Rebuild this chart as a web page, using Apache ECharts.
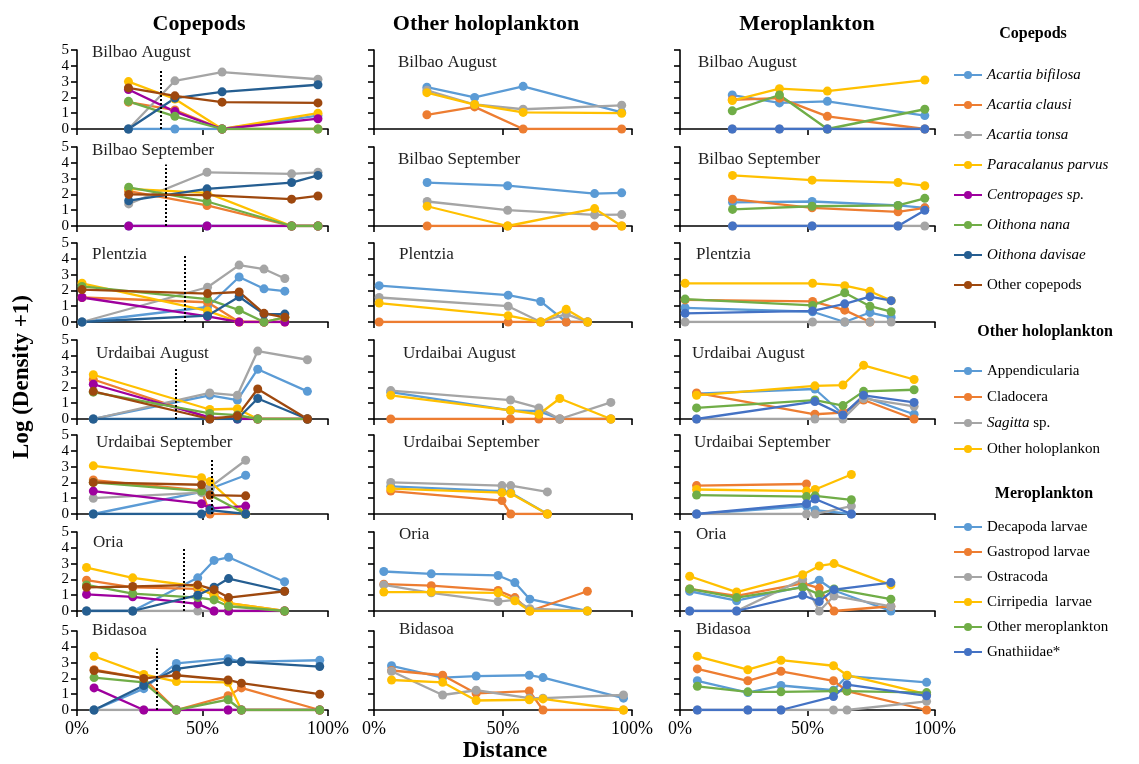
<!DOCTYPE html>
<html><head><meta charset="utf-8">
<script src="https://cdn.jsdelivr.net/npm/echarts@6/dist/echarts.min.js"></script>
<style>html,body{margin:0;padding:0;background:#fff}#c{width:1139px;height:764px}</style>
</head><body><div id="c"></div><script>
// ---------------- DATA ----------------
const sites = ['Bilbao August','Bilbao September','Plentzia','Urdaibai August','Urdaibai September','Oria','Bidasoa'];
const columnTitles = ['Copepods','Other holoplankton','Meroplankton'];
const xTickLabels = ['0%','50%','100%'];
// station positions (% of distance) per site
const stations = [
  [20.5,39,57.8,96],
  [20.6,51.8,85.5,96],
  [2,52,64.6,74.5,82.8],
  [6.5,52.9,63.9,72,91.8],
  [6.5,49.6,53,67.2],
  [3.8,22.2,48.1,54.6,60.4,82.7],
  [6.8,26.6,39.6,60.2,65.5,96.7]
];
// dotted separator in copepod panels: x position (%) and top (log units)
const dottedX = [33.5,35.5,43,39.4,53.8,42.6,31.9];
const dottedTop = [3.8,3.9,4.2,3.2,3.5,4.0,3.9];

// Copepods
const copepodNames = ['Acartia bifilosa','Acartia clausi','Acartia tonsa','Paracalanus parvus','Centropages sp.','Oithona nana','Oithona davisae','Other copepods'];
const acartiaBifilosa = [[0,0,0,0.85],[0,0,0,0],[0,0.95,2.85,2.1,1.95],[0,1.5,1.2,3.15,1.75],[0,1.4,1.6,2.45],[0,0,2.1,3.2,3.4,1.85],[0,1.35,2.95,3.25,3.05,3.15]];
const acartiaClausi = [[1.7,1.2,0,0],[2.2,1.3,0,0],[1.55,1.25,0,0,0],[2.5,0.05,0.1,0,0],[2.15,1.5,0,0],[1.95,1.5,1.4,1.05,0.5,0],[2.55,2.0,0,0.9,1.4,0]];
const acartiaTonsa = [[0,3.05,3.6,3.15],[1.4,3.4,3.3,3.4],[0,2.2,3.6,3.35,2.75],[0,1.65,1.5,4.3,3.75],[1.0,1.35,1.7,3.4],[0,0,0,0,0,0],[0,0,0,0,0,0]];
const paracalanusParvus = [[3.0,1.9,0,1.0],[2.35,2.1,0,0],[2.45,0.7,0,0,0.3],[2.8,0.6,0.65,0,0],[3.05,2.3,2.05,0],[2.75,2.1,1.55,0.95,0.5,0],[3.4,2.25,1.8,1.75,0,0]];
const centropages = [[2.5,1.1,0,0.65],[0,0,0,0],[1.55,0.35,0,0,0],[2.2,0.1,0,0,0],[1.45,0.65,0.35,0.5],[1.05,0.9,0.45,0,0,0],[1.4,0,0,0,0,0]];
const oithonaNana = [[1.75,0.8,0,0],[2.45,1.55,0,0],[2.25,1.45,0.75,0,0.3],[1.7,0.35,0.25,0,0],[2.0,1.45,1.2,0],[1.65,1.1,0.85,0.7,0.3,0],[2.05,1.75,0,0.65,0,0]];
const oithonaDavisae = [[0,1.95,2.35,2.8],[1.6,2.35,2.75,3.2],[0,0.4,1.6,0.5,0.5],[0,0,0,1.3,0],[0,0,0.25,0],[0,0,1.0,1.5,2.05,1.25],[0,1.55,2.6,3.05,3.05,2.75]];
const otherCopepods = [[2.6,2.1,1.7,1.65],[2.0,1.95,1.7,1.9],[2.05,1.8,1.9,0.55,0.3],[1.75,0,0.2,1.9,0],[2.0,1.85,1.2,1.15],[1.5,1.55,1.65,1.35,0.85,1.25],[2.5,2.0,2.2,1.9,1.7,1.0]];

// Other holoplankton
const holoNames = ['Appendicularia','Cladocera','Sagitta sp.','Other holoplankon'];
const appendicularia = [[2.65,2.0,2.7,1.05],[2.75,2.55,2.05,2.1],[2.3,1.7,1.3,0,0],[1.7,0.55,0.5,0,0],[1.75,1.45,1.35,0],[2.5,2.35,2.25,1.8,0.75,0],[2.8,2.05,2.15,2.2,2.05,0.75]];
const cladocera = [[0.9,1.4,0,0],[0,0,0,0],[0,0,0,0,0],[0,0,0,0,0],[1.45,0.85,0,0],[1.7,1.6,1.3,0.85,0,1.25],[2.5,2.2,1.05,1.2,0,0]];
const sagitta = [[2.45,1.55,1.25,1.5],[1.55,1.0,0.7,0.72],[1.55,1.0,0,0.5,0],[1.8,1.2,0.7,0,1.05],[2.0,1.8,1.8,1.4],[1.65,1.15,0.6,0.7,0.15,0],[2.45,0.95,1.25,0.75,0.75,0.95]];
const otherHolo = [[2.3,1.55,1.05,1.0],[1.25,0,1.1,0],[1.2,0.4,0,0.8,0],[1.5,0.55,0.3,1.3,0],[1.6,1.35,1.3,0],[1.2,1.2,1.15,0.65,0,0],[1.9,1.75,0.6,0.65,0.7,0]];

// Meroplankton
const meroNames = ['Decapoda larvae','Gastropod larvae','Ostracoda','Cirripedia  larvae','Other meroplankton','Gnathiidae*'];
const decapoda = [[2.15,1.65,1.75,0.85],[1.5,1.55,1.3,1.15],[0.9,0.65,0,0.6,0.3],[1.6,1.9,0.3,1.4,0.3],[0,0.5,0.25,0],[1.25,0.65,1.55,1.95,1.3,0],[1.85,1.1,1.55,1.25,2.15,1.75]];
const gastropod = [[1.85,1.95,0.8,0],[1.7,1.15,0.9,1.15],[1.4,1.3,0.75,0,null],[1.65,0.3,0.4,1.2,0],[1.8,1.9,null,null],[1.4,0.95,1.75,1.45,0,0.3],[2.6,1.85,2.45,1.85,1.2,0]];
const ostracoda = [[0,0,0,0],[0,0,0,0],[0,0,0,0,0],[0,0,0,1.3,0.8],[0,0,0,0.5],[0,0,2.0,0,0.95,0.3],[0,0,0,0,0,0.55]];
const cirripedia = [[1.8,2.55,2.4,3.1],[3.2,2.9,2.75,2.55],[2.45,2.45,2.3,1.95,1.35],[1.5,2.1,2.15,3.4,2.5],[1.55,1.45,1.55,2.5],[2.2,1.2,2.3,2.85,3.0,1.65],[3.4,2.55,3.15,2.8,2.2,1.0]];
const otherMero = [[1.15,2.15,0,1.25],[1.05,1.25,1.3,1.75],[1.45,1.05,1.85,1.0,0.65],[0.7,1.2,0.85,1.75,1.85],[1.2,1.1,1.15,0.9],[1.4,0.85,1.5,1.05,1.4,0.75],[1.5,1.15,1.15,1.2,1.2,1.1]];
const gnathiidae = [[0,0,0,0],[0,0,0,1.0],[0.55,0.7,1.15,1.6,1.35],[0,1.1,0.25,1.5,1.05],[0,0.65,0.95,0],[0,0,1.0,0.6,1.35,1.8],[0,0,0,0.85,1.6,0.9]];

// ---------------- STYLE / LAYOUT ----------------
const SERIF = '"Liberation Serif","Times New Roman",serif';
const C = {lb:'#5B9BD5', or:'#ED7D31', gr:'#A5A5A5', ye:'#FFC000', pu:'#9E009E', gn:'#70AD47', db:'#255E91', br:'#9E480E', bl:'#4472C4'};
const groups = [
  {names:copepodNames, colors:[C.lb,C.or,C.gr,C.ye,C.pu,C.gn,C.db,C.br],
   data:[acartiaBifilosa,acartiaClausi,acartiaTonsa,paracalanusParvus,centropages,oithonaNana,oithonaDavisae,otherCopepods]},
  {names:holoNames, colors:[C.lb,C.or,C.gr,C.ye], data:[appendicularia,cladocera,sagitta,otherHolo]},
  {names:meroNames, colors:[C.lb,C.or,C.gr,C.ye,C.gn,C.bl], data:[decapoda,gastropod,ostracoda,cirripedia,otherMero,gnathiidae]}
];
const colLeft = [77,374,680], colWidth = [251,258,255];
const rowTop = [50,147,243,340,435,532,631], plotH = 79;
const titlePos = [
  [[92,44],[92,142],[92,246],[96,345],[96,434],[93,534],[92,622]],
  [[398,54],[398,151],[399,246],[403,345],[403,434],[399,526],[399,621]],
  [[698,54],[698,151],[696,246],[692,345],[694,434],[696,526],[696,621]]
];
const italicNames = new Set(['Acartia bifilosa','Acartia clausi','Acartia tonsa','Paracalanus parvus','Centropages sp.','Oithona nana','Oithona davisae']);

const grids=[], xAxes=[], yAxes=[], series=[], titles=[];
const axisLine = {show:true, onZero:false, lineStyle:{color:'#000', width:1.6}};
for (let c=0;c<3;c++){
  const g = groups[c];
  for (let r=0;r<7;r++){
    const idx = c*7+r;
    grids.push({left:colLeft[c], top:rowTop[r], width:colWidth[c], height:plotH});
    xAxes.push({gridIndex:idx, type:'value', min:0, max:100, interval:50,
      axisLine, axisTick:{show:true, inside:false, length:6, lineStyle:{color:'#000', width:1.6}},
      splitLine:{show:false},
      axisLabel:{show:r===6, margin:10, color:'#000', fontFamily:SERIF, fontSize:18,
        formatter:(v)=>xTickLabels[Math.round(v/50)]}});
    yAxes.push({gridIndex:idx, type:'value', min:0, max:5, interval:1,
      axisLine, axisTick:{show:true, length:6, lineStyle:{color:'#000', width:1.6}},
      splitLine:{show:false},
      axisLabel:{show:c===0, margin:8, color:'#000', fontFamily:SERIF, fontSize:15}});
    titles.push({text:sites[r], left:titlePos[c][r][0], top:titlePos[c][r][1],
      padding:0, textStyle:{fontFamily:SERIF, fontSize:17, fontWeight:'normal', color:'#222'}});
    g.names.forEach((name,si)=>{
      const vals = g.data[si][r];
      const pts = [];
      stations[r].forEach((x,k)=>{ if (vals[k]!==null && vals[k]!==undefined) pts.push([x, vals[k]]); });
      const s = {name, type:'line', xAxisIndex:idx, yAxisIndex:idx, data:pts,
        color:g.colors[si], symbol:'circle', symbolSize:9, showSymbol:true,
        lineStyle:{width:2.3}, animation:false, emphasis:{disabled:true}};
      if (c===0 && si===0){
        s.markLine = {silent:true, symbol:['none','none'], label:{show:false}, animation:false,
          lineStyle:{type:'dotted', color:'#000', width:2},
          data:[[{coord:[dottedX[r],0]},{coord:[dottedX[r],dottedTop[r]]}]]};
      }
      series.push(s);
    });
  }
}
const headerX = [199,486,807];
columnTitles.forEach((t,i)=>titles.push({text:t, left:headerX[i], top:13, textAlign:'center', padding:0,
  textStyle:{fontFamily:SERIF, fontSize:22, fontWeight:'bold', color:'#000'}}));

const legendText = {fontFamily:SERIF, fontSize:15, color:'#000', lineHeight:18,
  rich:{i:{fontFamily:SERIF, fontSize:15, fontStyle:'italic', color:'#000', lineHeight:18}}};
const fmt = (n)=> italicNames.has(n) ? '{i|'+n+'}' : (n==='Sagitta sp.' ? '{i|Sagitta} sp.' : n);
const legends = [
  {data:copepodNames, top:66, itemGap:12},
  {data:holoNames, top:362, itemGap:8},
  {data:meroNames, top:518, itemGap:7}
].map(l=>({data:l.data, top:l.top, left:953, orient:'vertical', itemGap:l.itemGap, itemWidth:28, itemHeight:10,
  selectedMode:false, formatter:fmt, textStyle:legendText, padding:0}));
const legendHeads = [['Copepods',1033,26],['Other holoplankton',1045,324],['Meroplankton',1044,486]];
legendHeads.forEach(h=>titles.push({text:h[0], left:h[1], top:h[2], textAlign:'center', padding:0,
  textStyle:{fontFamily:SERIF, fontSize:16, fontWeight:'bold', color:'#000'}}));

const chart = echarts.init(document.getElementById('c'), null, {renderer:'canvas'});
chart.setOption({
  animation:false, backgroundColor:'#fff',
  title:titles, grid:grids, xAxis:xAxes, yAxis:yAxes, legend:legends, series,
  graphic:[
    {type:'text', x:22, y:377, rotation:Math.PI/2, style:{text:'Log (Density +1)', fontFamily:SERIF, fontSize:23, fontWeight:'bold', fill:'#000', align:'center', verticalAlign:'middle'}},
    {type:'text', x:505, y:751, style:{text:'Distance', fontFamily:SERIF, fontSize:23, fontWeight:'bold', fill:'#000', align:'center', verticalAlign:'middle'}}
  ]
});
</script></body></html>
